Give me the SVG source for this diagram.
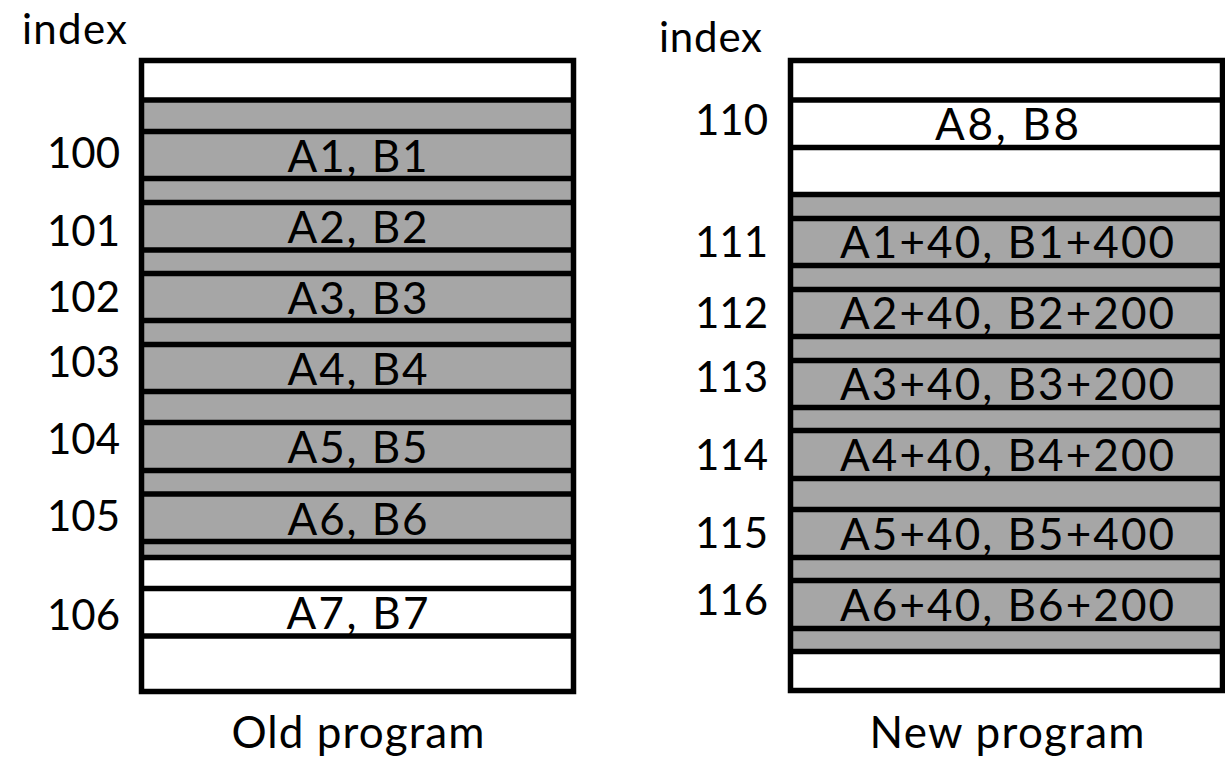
<svg xmlns="http://www.w3.org/2000/svg" width="1225" height="759" viewBox="0 0 1225 759">
  <style>
    .band { fill: #a6a6a6; stroke: none; }
    .rule { stroke: #000000; stroke-width: 5.5; fill: none; }
    .lbl { font-family: Lato, "Open Sans", "Liberation Sans", sans-serif; font-size: 42px; fill: #000000; }
    .cell { font-size: 44px; }
    .idx { text-anchor: end; }
    .mid { text-anchor: middle; }
  </style>

  <!-- Old program table -->
  <g id="old-program">
    <rect x="141.5" y="60.5" width="432" height="631" fill="#ffffff"/>
    <rect class="band" x="141.5" y="100" width="432" height="457.5"/>
    <g class="rule">
      <line x1="141.5" y1="100" x2="573.5" y2="100"/>
      <line x1="141.5" y1="131.5" x2="573.5" y2="131.5"/>
      <line x1="141.5" y1="178.5" x2="573.5" y2="178.5"/>
      <line x1="141.5" y1="202.5" x2="573.5" y2="202.5"/>
      <line x1="141.5" y1="250" x2="573.5" y2="250"/>
      <line x1="141.5" y1="273.5" x2="573.5" y2="273.5"/>
      <line x1="141.5" y1="320.5" x2="573.5" y2="320.5"/>
      <line x1="141.5" y1="344.5" x2="573.5" y2="344.5"/>
      <line x1="141.5" y1="391.5" x2="573.5" y2="391.5"/>
      <line x1="141.5" y1="422.5" x2="573.5" y2="422.5"/>
      <line x1="141.5" y1="470.5" x2="573.5" y2="470.5"/>
      <line x1="141.5" y1="494" x2="573.5" y2="494"/>
      <line x1="141.5" y1="541.5" x2="573.5" y2="541.5"/>
      <line x1="141.5" y1="557.5" x2="573.5" y2="557.5"/>
      <line x1="141.5" y1="588.5" x2="573.5" y2="588.5"/>
      <line x1="141.5" y1="636" x2="573.5" y2="636"/>
    </g>
    <rect x="141.5" y="60.5" width="432" height="631" fill="none" stroke="#000000" stroke-width="5.5"/>

    <g class="lbl cell mid">
      <text x="357.5" y="171.5" textLength="140" lengthAdjust="spacing">A1, B1</text>
      <text x="357.5" y="242.5" textLength="140" lengthAdjust="spacing">A2, B2</text>
      <text x="357.5" y="313.5" textLength="140" lengthAdjust="spacing">A3, B3</text>
      <text x="357.5" y="384.5" textLength="140" lengthAdjust="spacing">A4, B4</text>
      <text x="357.5" y="462.5" textLength="140" lengthAdjust="spacing">A5, B5</text>
      <text x="357.5" y="534.5" textLength="140" lengthAdjust="spacing">A6, B6</text>
      <text x="357.5" y="629" textLength="142" lengthAdjust="spacing">A7, B7</text>
      <text x="358" y="748" textLength="253" lengthAdjust="spacing">Old program</text>
    </g>
    <g class="lbl idx">
      <text x="120" y="168">100</text>
      <text x="120" y="246">101</text>
      <text x="120" y="312">102</text>
      <text x="120" y="377">103</text>
      <text x="120" y="454">104</text>
      <text x="120" y="531">105</text>
      <text x="120" y="630">106</text>
    </g>
    <text class="lbl" x="22" y="44" textLength="105" lengthAdjust="spacing">index</text>
  </g>

  <!-- New program table -->
  <g id="new-program">
    <rect x="790.5" y="60.5" width="432" height="630" fill="#ffffff"/>
    <rect class="band" x="790.5" y="194.5" width="432" height="457"/>
    <g class="rule">
      <line x1="790.5" y1="100" x2="1222.5" y2="100"/>
      <line x1="790.5" y1="147.5" x2="1222.5" y2="147.5"/>
      <line x1="790.5" y1="194.5" x2="1222.5" y2="194.5"/>
      <line x1="790.5" y1="218.5" x2="1222.5" y2="218.5"/>
      <line x1="790.5" y1="265.5" x2="1222.5" y2="265.5"/>
      <line x1="790.5" y1="289.5" x2="1222.5" y2="289.5"/>
      <line x1="790.5" y1="336.5" x2="1222.5" y2="336.5"/>
      <line x1="790.5" y1="360.5" x2="1222.5" y2="360.5"/>
      <line x1="790.5" y1="407.5" x2="1222.5" y2="407.5"/>
      <line x1="790.5" y1="430.5" x2="1222.5" y2="430.5"/>
      <line x1="790.5" y1="478.5" x2="1222.5" y2="478.5"/>
      <line x1="790.5" y1="509.5" x2="1222.5" y2="509.5"/>
      <line x1="790.5" y1="557.5" x2="1222.5" y2="557.5"/>
      <line x1="790.5" y1="580.5" x2="1222.5" y2="580.5"/>
      <line x1="790.5" y1="628.5" x2="1222.5" y2="628.5"/>
      <line x1="790.5" y1="651.5" x2="1222.5" y2="651.5"/>
    </g>
    <rect x="790.5" y="60.5" width="432" height="630" fill="none" stroke="#000000" stroke-width="5.5"/>

    <g class="lbl cell mid">
      <text x="1007" y="140" textLength="144" lengthAdjust="spacing">A8, B8</text>
      <text x="1007" y="258" textLength="334" lengthAdjust="spacing">A1+40, B1+400</text>
      <text x="1007" y="329" textLength="334" lengthAdjust="spacing">A2+40, B2+200</text>
      <text x="1007" y="400" textLength="334" lengthAdjust="spacing">A3+40, B3+200</text>
      <text x="1007" y="471" textLength="334" lengthAdjust="spacing">A4+40, B4+200</text>
      <text x="1007" y="550" textLength="334" lengthAdjust="spacing">A5+40, B5+400</text>
      <text x="1007" y="621" textLength="334" lengthAdjust="spacing">A6+40, B6+200</text>
      <text x="1007" y="748" textLength="275" lengthAdjust="spacing">New program</text>
    </g>
    <g class="lbl idx">
      <text x="768" y="135">110</text>
      <text x="768" y="257">111</text>
      <text x="768" y="328">112</text>
      <text x="768" y="392">113</text>
      <text x="768" y="470">114</text>
      <text x="768" y="548">115</text>
      <text x="768" y="615">116</text>
    </g>
    <text class="lbl" x="659" y="52" textLength="103" lengthAdjust="spacing">index</text>
  </g>
</svg>
